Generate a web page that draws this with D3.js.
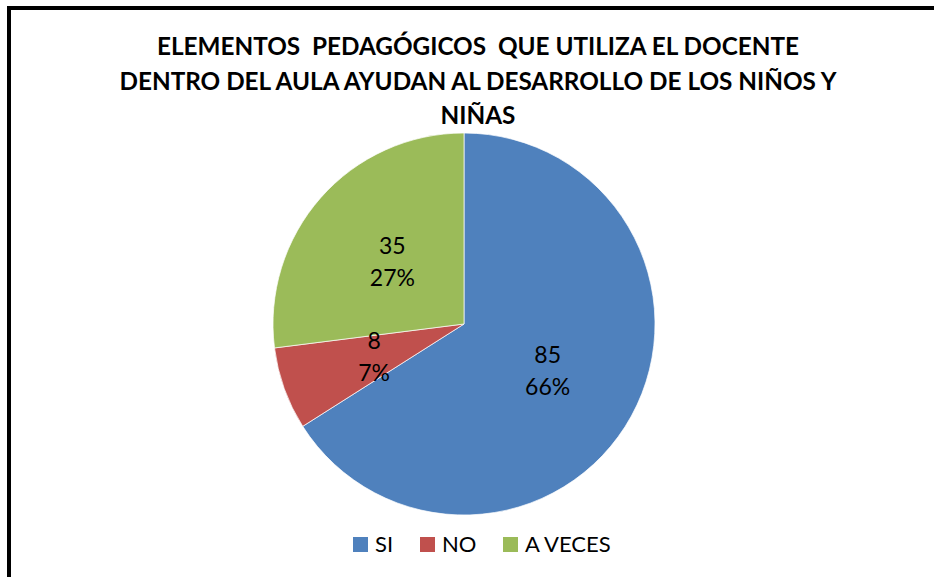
<!DOCTYPE html>
<html><head><meta charset="utf-8">
<script src="https://cdn.jsdelivr.net/npm/d3@7"></script>
<style>body{margin:0;background:#fff}svg{display:block}text{white-space:pre}</style>
</head><body><svg id="c" width="934" height="577"></svg>
<script>
const categories = ["SI", "NO", "A VECES"];
const counts = [85, 8, 35];
const percents = [66, 7, 27];
const colors = ["#4F81BD", "#C0504D", "#9BBB59"];
const titleLines = ["ELEMENTOS  PEDAGÓGICOS  QUE UTILIZA EL DOCENTE", "DENTRO DEL AULA AYUDAN AL DESARROLLO DE LOS NIÑOS Y", "NIÑAS"];

const svg = d3.select("#c");
const font = "Lato, 'Open Sans', sans-serif";
svg.append("rect").attr("width",934).attr("height",577).attr("fill","#fff");
svg.append("path").attr("d","M9,577 V8 H934").attr("fill","none").attr("stroke","#000").attr("stroke-width",4);

svg.append("g").selectAll("text").data(titleLines).join("text")
  .attr("x",478).attr("y",(d,i)=>55+i*34.5).attr("text-anchor","middle")
  .attr("font-family",font).attr("font-weight","bold").attr("font-size",24.3).attr("fill","#000").text(d=>d);

const cx=464, cy=324, r=191;
const data = categories.map((c,i)=>({cat:c,count:counts[i],pct:percents[i],color:colors[i]}));
const pie = d3.pie().value(d=>d.pct).sort(null);
const arc = d3.arc().innerRadius(0).outerRadius(r);
const g = svg.append("g").attr("transform",`translate(${cx},${cy})`);
const arcs = pie(data);
g.selectAll("path").data(arcs).join("path").attr("d",arc).attr("fill",d=>d.data.color)
  .attr("stroke","#fff").attr("stroke-width",0.7);
const lab = g.selectAll("g.l").data(arcs).join("g").attr("class","l")
  .attr("transform",d=>{const c=arc.centroid(d);return `translate(${c[0]},${c[1]})`;});
lab.append("text").attr("y",-7).attr("text-anchor","middle").attr("font-family",font).attr("font-size",23).text(d=>d.data.count);
lab.append("text").attr("y",25).attr("text-anchor","middle").attr("font-family",font).attr("font-size",23).text(d=>d.data.pct+"%");

const legX=[353,420,503];
const lg = svg.append("g").selectAll("g").data(data).join("g").attr("transform",(d,i)=>`translate(${legX[i]},537)`);
lg.append("rect").attr("width",15).attr("height",15).attr("fill",d=>d.color);
lg.append("text").attr("x",22).attr("y",15).attr("font-family",font).attr("font-size",22).text(d=>d.cat);
</script></body></html>
